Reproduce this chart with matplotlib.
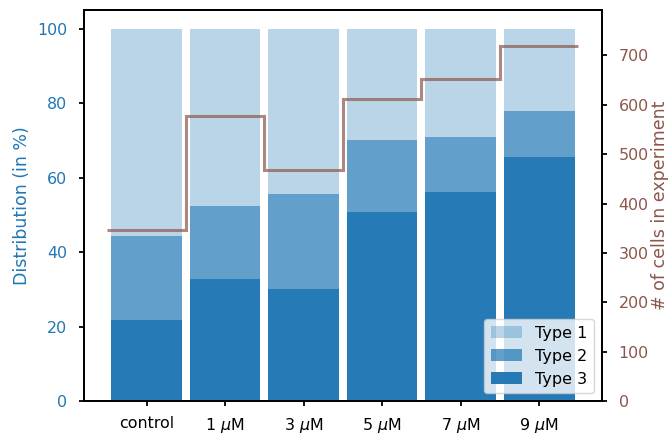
import numpy as np
import matplotlib
matplotlib.use("Agg")
import matplotlib.pyplot as plt

conditions = ["control", r"1 $\mu$M", r"3 $\mu$M", r"5 $\mu$M", r"7 $\mu$M", r"9 $\mu$M"]
type3 = [21.7, 32.7, 30.0, 50.7, 56.0, 65.4]
type2 = [22.5, 19.6, 25.5, 19.5, 15.0, 12.6]
type1 = [100 - a - b for a, b in zip(type3, type2)]
n_cells = [346, 577, 468, 612, 653, 720]

plt.rcParams.update({
    "font.size": 11.4,
    "axes.labelsize": 12.5,
    "legend.fontsize": 11.5,
    "axes.linewidth": 1.3,
    "xtick.major.width": 1.3,
    "ytick.major.width": 1.3,
    "xtick.major.pad": 7,
    "ytick.major.pad": 8.5,
})

x = np.arange(len(conditions))

fig, ax = plt.subplots(figsize=(6.7, 4.34), dpi=100)
fig.subplots_adjust(left=0.125, right=0.8985, top=0.977, bottom=0.076)

ax.bar(x, type3, width=0.9, color="C0", alpha=0.97, label="Type 3")
ax.bar(x, type2, width=0.9, bottom=type3, color="C0", alpha=0.7, label="Type 2")
ax.bar(x, type1, width=0.9, bottom=np.add(type3, type2), color="C0", alpha=0.3,
       label="Type 1")
ax.set_xticks(x)
ax.set_xticklabels(conditions)
ax.set_ylabel("Distribution (in %)", color="C0")
ax.tick_params(axis="y", labelcolor="C0")

# number of cells per condition on a second axis
ax2 = ax.twinx()
ax2.stairs(n_cells, np.arange(len(conditions) + 1) - 0.5, color="C5", alpha=0.7, lw=2.2,
           baseline=None)
ax2.set_ylim(0, max(n_cells) * 1.1)
ax2.set_ylabel("# of cells in experiment", color="C5", labelpad=1.5)
ax2.tick_params(axis="y", labelcolor="C5")

handles, labels = ax.get_legend_handles_labels()
ax2.legend(handles[::-1], labels[::-1], loc="lower right")

fig.savefig("out.png")
